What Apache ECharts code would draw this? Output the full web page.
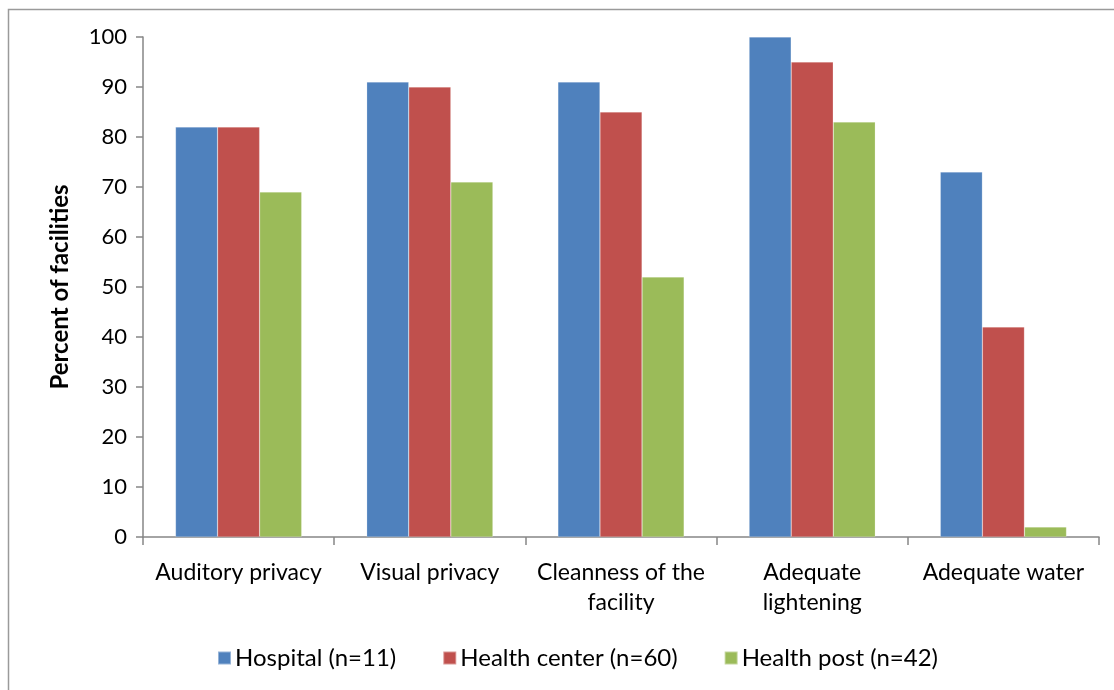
<!DOCTYPE html>
<html><head><meta charset="utf-8">
<script src="https://cdn.jsdelivr.net/npm/echarts@6/dist/echarts.min.js"></script>
<style>html,body{margin:0;padding:0;background:#fff}#c{width:1114px;height:690px}</style>
</head><body><div id="c"></div>
<script>
const categories = ['Auditory privacy', 'Visual privacy', 'Cleanness of the\nfacility', 'Adequate\nlightening', 'Adequate water'];
const hospital = [82, 91, 91, 100, 73];
const healthCenter = [82, 90, 85, 95, 42];
const healthPost = [69, 71, 52, 83, 2];
const seriesNames = ['Hospital (n=11)', 'Health center (n=60)', 'Health post (n=42)'];
const colors = ['#4F81BD', '#C0504D', '#9BBB59'];
const yTicks = [0, 100, 10];

const font = 'Lato, "Open Sans", sans-serif';
const chart = echarts.init(document.getElementById('c'), null, {renderer: 'canvas'});
const mk = (name, data, color) => ({
  name, type: 'bar', data, barGap: '0%', barCategoryGap: '34%',
  itemStyle: {color, borderColor: 'rgba(255,255,255,0.4)', borderWidth: 0.5},
  animation: false
});
chart.setOption({
  animation: false,
  textStyle: {fontFamily: font},
  graphic: [{type: 'rect', shape: {x: 8.5, y: 9.5, width: 1200, height: 800},
    style: {fill: 'none', stroke: '#9a9a9a', lineWidth: 1.5}, silent: true}],
  grid: {left: 143, right: 15, top: 37, bottom: 153, containLabel: false},
  legend: {
    data: seriesNames, top: 641, left: 212, itemWidth: 13, itemHeight: 13, itemGap: 46,
    icon: 'rect', textStyle: {fontFamily: font, fontSize: 24, color: '#000', padding: [0, 0, 0, -1]}
  },
  xAxis: {
    type: 'category', data: categories,
    axisLine: {lineStyle: {color: '#868686', width: 1.5}},
    axisTick: {show: true, length: 8, lineStyle: {color: '#868686', width: 1.5}},
    axisLabel: {fontFamily: font, fontSize: 23, color: '#000', margin: 21, lineHeight: 30, interval: 0}
  },
  yAxis: {
    type: 'value', min: yTicks[0], max: yTicks[1], interval: yTicks[2],
    name: 'Percent of facilities', nameLocation: 'middle', nameGap: 71,
    nameTextStyle: {fontFamily: font, fontSize: 24, fontWeight: 'bold', color: '#000'},
    splitLine: {show: false},
    axisLine: {show: true, lineStyle: {color: '#868686', width: 1.5}},
    axisTick: {show: true, length: 7, lineStyle: {color: '#868686', width: 1.5}},
    axisLabel: {fontFamily: font, fontSize: 22, color: '#000', margin: 16}
  },
  series: [mk(seriesNames[0], hospital, colors[0]), mk(seriesNames[1], healthCenter, colors[1]), mk(seriesNames[2], healthPost, colors[2])]
});
</script></body></html>
